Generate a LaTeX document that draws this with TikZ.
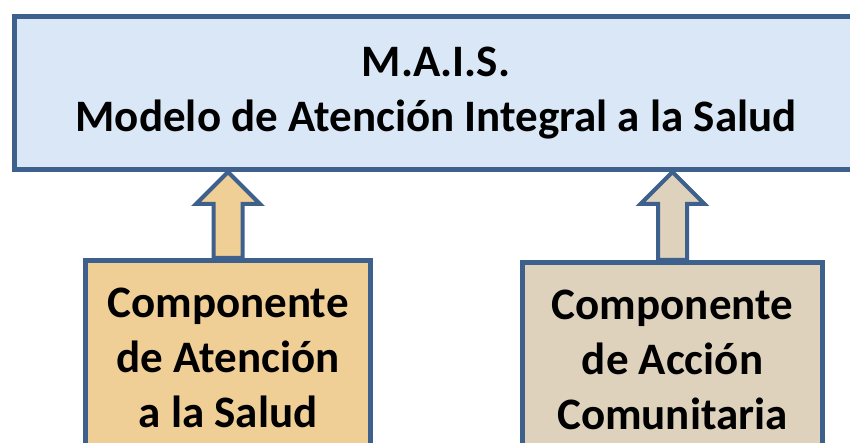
\documentclass[tikz,border=0pt]{standalone}
\usepackage{fontspec}
\setmainfont{Carlito}
\usetikzlibrary{calc,positioning,backgrounds}
\definecolor{boxline}{RGB}{62,96,140}
\definecolor{skyfill}{RGB}{218,231,246}
\definecolor{tanfill}{RGB}{240,207,150}
\definecolor{sandfill}{RGB}{222,210,188}
\tikzset{bigfont/.style = {font=\bfseries\fontsize{45}{55}\selectfont},
    model/.style = {rectangle, draw=boxline, line width=5pt, fill=skyfill, minimum width=843pt, minimum height=153pt, align=center, bigfont},
    comp/.style = {rectangle, draw=boxline, line width=5pt, minimum height=195pt, align=center, anchor=north, bigfont}
}
\newcommand\UpArrow[3]{%
    \draw[draw=boxline, line width=4pt, fill=#3, line join=miter] let \p1=(#1), \p2=(#2) in
      (\x1-14.5pt,\y1) -- (\x1-14.5pt,\y2-32pt) -- (\x1-32pt,\y2-32pt) -- (\x1,\y2)
      -- (\x1+32pt,\y2-32pt) -- (\x1+14.5pt,\y2-32pt) -- (\x1+14.5pt,\y1) -- cycle;
    }

\begin{document}
\begin{tikzpicture}[x=1pt,y=-1pt]
    \useasboundingbox (0,0) rectangle (850,443);
    \clip (0,0) rectangle (850,443);

    \node[model] (mais) at (436,93) {M.A.I.S.\\Modelo de Atención Integral a la Salud};

    \node[comp, fill=tanfill, minimum width=285pt] (aten) at (228,258) {Componente\\de Atención\\a la Salud};
    \node[comp, fill=sandfill, minimum width=300pt] (accion) at (672.5,260) {Componente\\de Acción\\Comunitaria};

    % block arrows behind the boxes
    \begin{scope}[on background layer]
    \foreach \c/\f in {aten/tanfill, accion/sandfill}{
      \UpArrow{\c.north}{mais.south}{\f}
    }
    \end{scope}
\end{tikzpicture}
\end{document}
